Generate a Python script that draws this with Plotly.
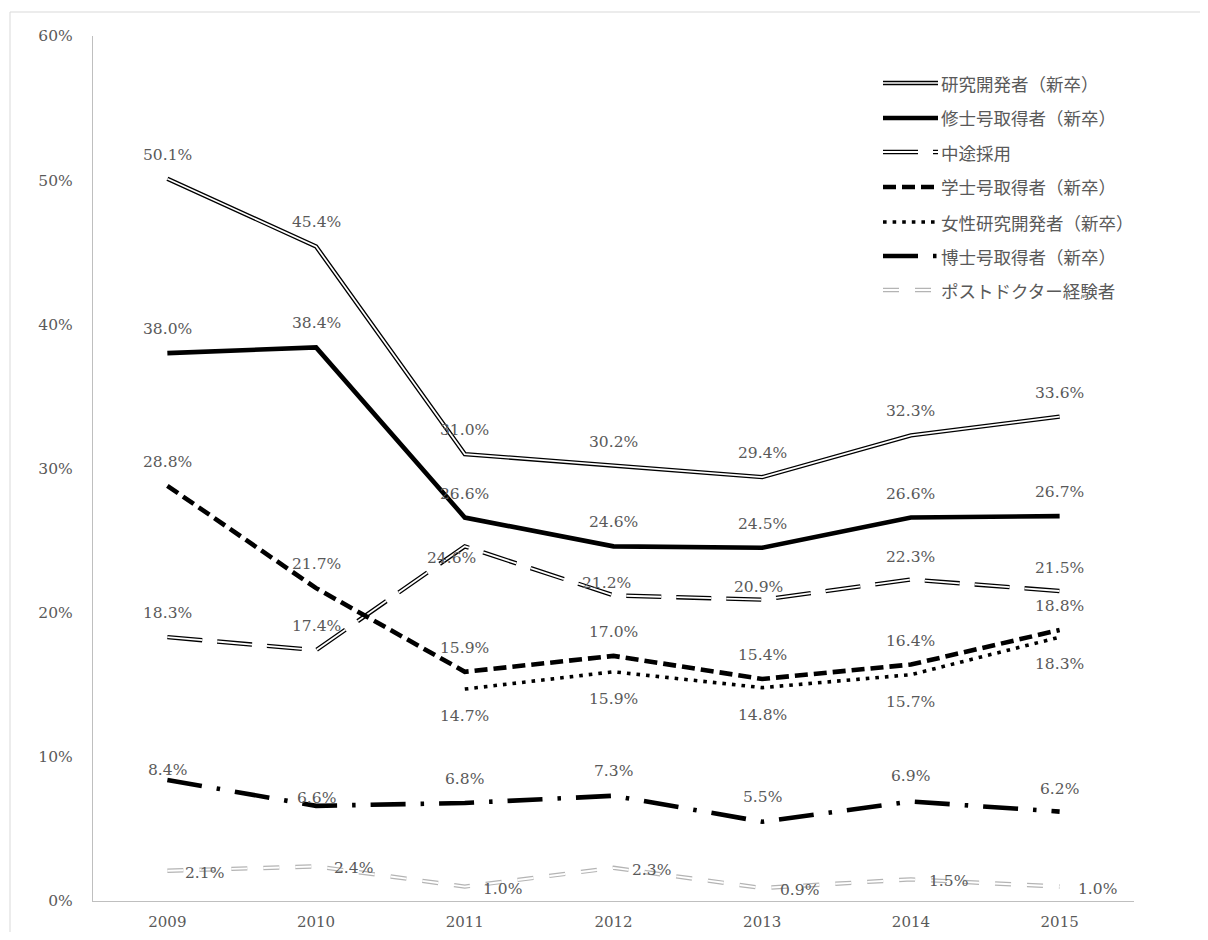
import plotly.graph_objects as go

# ---------------- data ----------------
years = ["2009", "2010", "2011", "2012", "2013", "2014", "2015"]
researchers = [50.1, 45.4, 31.0, 30.2, 29.4, 32.3, 33.6]      # 研究開発者（新卒）
masters = [38.0, 38.4, 26.6, 24.6, 24.5, 26.6, 26.7]          # 修士号取得者（新卒）
midcareer = [18.3, 17.4, 24.6, 21.2, 20.9, 22.3, 21.5]        # 中途採用
bachelors = [28.8, 21.7, 15.9, 17.0, 15.4, 16.4, 18.8]        # 学士号取得者（新卒）
women = [None, None, 14.7, 15.9, 14.8, 15.7, 18.3]            # 女性研究開発者（新卒）
doctors = [8.4, 6.6, 6.8, 7.3, 5.5, 6.9, 6.2]                 # 博士号取得者（新卒）
postdocs = [2.1, 2.4, 1.0, 2.3, 0.9, 1.5, 1.0]                # ポストドクター経験者

series_names = ["研究開発者（新卒）", "修士号取得者（新卒）", "中途採用",
                "学士号取得者（新卒）", "女性研究開発者（新卒）",
                "博士号取得者（新卒）", "ポストドクター経験者"]
series_values = [researchers, masters, midcareer, bachelors, women, doctors, postdocs]
y_tick_values = [0, 10, 20, 30, 40, 50, 60]
y_tick_labels = ["0%", "10%", "20%", "30%", "40%", "50%", "60%"]

# ---------------- styles ----------------
# (outer colour, outer width, dash, inner white width or None)
styles = [
    ("#000000", 4.4, "solid", 1.7),
    ("#000000", 4.6, "solid", None),
    ("#000000", 4.4, "35px,15px", 1.8),
    ("#000000", 4.6, "13px,6px", None),
    ("#000000", 3.6, "3.6px,6px", None),
    ("#000000", 4.6, "35px,15px,3.5px,15px", None),
    ("#b4b4b4", 4.4, "16px,16px", 1.9),
]
# label placement per series: (xanchor, xshift, yshift)
default_place = [("center", 0, 24)] * 7
label_place = [
    default_place,
    default_place,
    [("center", 0, 24), ("center", 0, 24), ("center", -13, -12), ("center", -7, 12),
     ("center", -4, 13), ("center", 0, 23), ("center", 0, 23)],
    default_place,
    [("center", 0, -27)] * 7,
    [("center", 0, 10), ("center", 0, 8), ("center", 0, 24), ("center", 0, 25),
     ("center", 0, 25), ("center", 0, 26), ("center", 0, 23)],
    [("left", 16, -2)] * 7,
]

FONT_NUM = "DejaVu Serif"
FONT_JP = "Noto Sans CJK JP"
TXT = "#595959"

# page-pixel geometry of the plot area (figure is offset by the 8px body margin)
OFF = 8
PX_L, PX_R, PX_T, PX_B = 93, 1134, 36, 901
W, H = 1192, 924

fig = go.Figure()
for name, vals, (col, w, dash, inner) in zip(series_names, series_values, styles):
    fig.add_trace(go.Scatter(x=years, y=vals, mode="lines", name=name,
                             line=dict(color=col, width=w, dash=dash),
                             showlegend=False, hoverinfo="skip"))
    if inner:
        fig.add_trace(go.Scatter(x=years, y=vals, mode="lines", name=name,
                                 line=dict(color="#ffffff", width=inner, dash=dash),
                                 showlegend=False, hoverinfo="skip"))

annotations = []
for vals, places in zip(series_values, label_place):
    for i, (v, (xa, xs, ys)) in enumerate(zip(vals, places)):
        if v is None:
            continue
        annotations.append(dict(x=i, y=v, xref="x", yref="y", text=f"{v:.1f}%",
                                showarrow=False, xanchor=xa, yanchor="middle",
                                xshift=xs, yshift=ys,
                                font=dict(family=FONT_NUM, size=15.5, color=TXT)))


def px_x(X):
    return (X - PX_L) / (PX_R - PX_L)


def px_y(Y):
    return (PX_B - Y) / (PX_B - PX_T)


# manual legend
shapes = []
leg_rows = [83, 118, 152, 187, 222, 256, 290]
for name, (col, w, dash, inner), ry in zip(series_names, styles, leg_rows):
    shapes.append(dict(type="line", xref="paper", yref="paper",
                       x0=px_x(883), x1=px_x(938), y0=px_y(ry), y1=px_y(ry),
                       line=dict(color=col, width=w, dash=dash)))
    if inner:
        shapes.append(dict(type="line", xref="paper", yref="paper",
                           x0=px_x(883), x1=px_x(938), y0=px_y(ry), y1=px_y(ry),
                           line=dict(color="#ffffff", width=inner, dash=dash)))
    annotations.append(dict(x=px_x(939), y=px_y(ry), xref="paper", yref="paper",
                            text=name, showarrow=False, xanchor="left", yanchor="middle",
                            font=dict(family=FONT_JP, size=17.5, color=TXT)))

# chart border
shapes.append(dict(type="rect", xref="paper", yref="paper",
                   x0=px_x(10), x1=px_x(1260), y0=px_y(1000), y1=px_y(12),
                   line=dict(color="#d9d9d9", width=1), layer="below"))

fig.update_layout(
    width=W, height=H,
    margin=dict(l=PX_L - OFF, r=W - (PX_R - OFF), t=PX_T - OFF, b=H - (PX_B - OFF)),
    paper_bgcolor="#ffffff", plot_bgcolor="#ffffff",
    showlegend=False,
    annotations=annotations,
    shapes=shapes,
    xaxis=dict(type="category", range=[-0.5, 6.5], showgrid=False, zeroline=False,
               showline=True, linecolor="#bfbfbf", linewidth=1.3, ticks="",
               tickfont=dict(family=FONT_NUM, size=15, color=TXT),
               ticklabelstandoff=7, automargin=False),
    yaxis=dict(range=[0, 60], tickvals=y_tick_values, ticktext=y_tick_labels,
               showgrid=False, zeroline=False, showline=True, linecolor="#bfbfbf",
               linewidth=1.3, ticks="",
               tickfont=dict(family=FONT_NUM, size=15.5, color=TXT),
               ticklabelstandoff=16, automargin=False),
)

fig.write_html("out.html")
